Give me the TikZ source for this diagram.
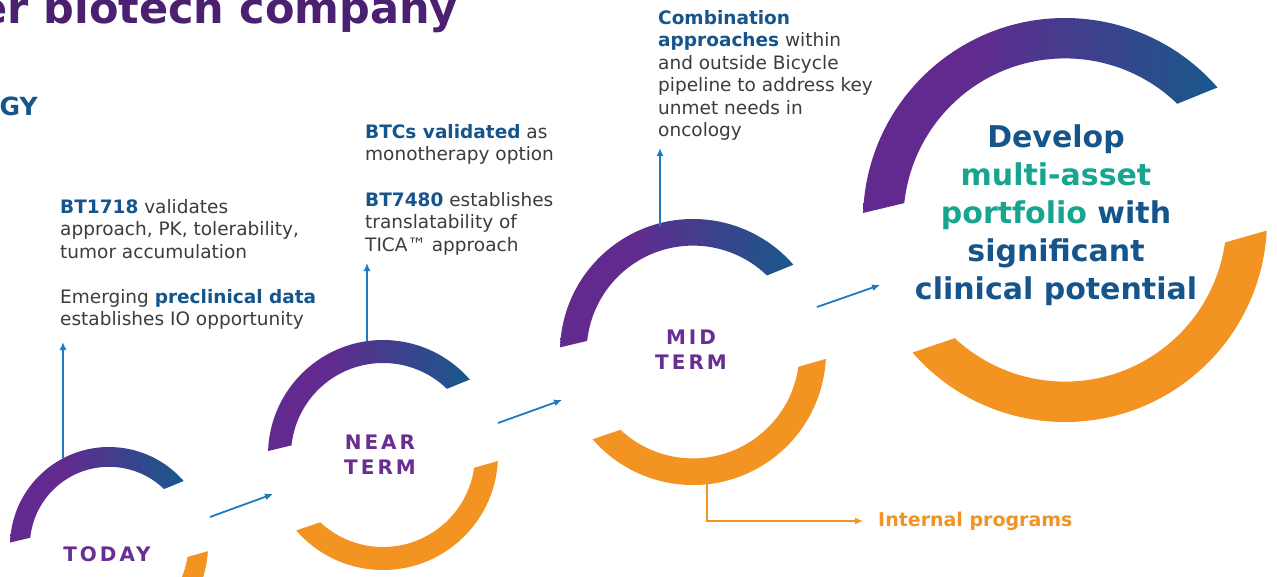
\documentclass[tikz,border=0pt]{standalone}
\usepackage{fontspec}
\setmainfont{DejaVu Sans}
\usepackage{xcolor}
\usetikzlibrary{arrows.meta}
\definecolor{ringpurple}{RGB}{98,42,142}
\definecolor{ringblue}{RGB}{24,88,140}
\definecolor{ringorange}{RGB}{243,147,33}
\definecolor{titlepurple}{RGB}{75,32,112}
\definecolor{stagepurple}{RGB}{106,45,145}
\definecolor{textblue}{RGB}{22,85,140}
\definecolor{textteal}{RGB}{24,165,143}
\definecolor{textgray}{RGB}{60,60,60}
\definecolor{arrowblue}{RGB}{29,123,193}
\pgfdeclarehorizontalshading{ringshade}{100bp}{color(0bp)=(ringpurple); color(25bp)=(ringpurple);
  color(40bp)=(ringpurple); color(75bp)=(ringblue); color(100bp)=(ringblue)}
\newfontfamily\stagefont[LetterSpace=15]{DejaVu Sans}
\newcommand{\hilite}[1]{{\bfseries\color{textblue}#1}}

\begin{document}
\begin{tikzpicture}[
    x=1pt, y=-1pt,
    info/.style={anchor=north west, inner sep=0pt, align=left, text=textgray,
                 font=\fontsize{18.5}{22.5}\selectfont},
    stage/.style={inner sep=0pt, align=center, text=stagepurple,
                  font=\stagefont\bfseries\fontsize{20}{25}\selectfont},
    goal/.style={anchor=north, inner sep=0pt, align=center, text=textblue,
                 font=\bfseries\fontsize{30}{38}\selectfont},
    arr/.style={-{Latex[length=8pt,width=7pt]}, line width=1.8pt, color=arrowblue},
    elbow/.style={-{Latex[length=8pt,width=7pt]}, line width=1.8pt, color=ringorange}
  ]
    \useasboundingbox[fill=white] (0,0) rectangle (1277,576);

    \foreach \n/\x/\y/\r in {r1/109/546/99, r2/383/455/115, r3/693/352/133, r4/1065/220/202}{
      \coordinate (\n) at (\x,\y);
      \shade[shading=ringshade, shift={(\x,\y)}]
        (-178:\r) arc[start angle=-178, end angle=-41, radius=\r]
        -- (-46:{0.8*\r}) arc[start angle=-46, end angle=-174, radius={0.8*\r}] -- cycle;
      \fill[ringorange, shift={(\x,\y)}]
        (139:\r) arc[start angle=139, end angle=3, radius=\r]
        -- (8:{0.8*\r}) arc[start angle=8, end angle=133, radius={0.8*\r}] -- cycle;
    }

    \node[anchor=base east, inner sep=0pt, text=titlepurple,
          font=\bfseries\fontsize{43}{50}\selectfont] (title) at (458,23) {er biotech company};
    \node[anchor=base east, inner sep=0pt, text=textblue,
          font=\bfseries\fontsize{25}{30}\selectfont] (strategy) at (38,115) {GY};

    \node[stage] (today) at (107,554) {TODAY};
    \node[stage] (near)  at (380,455) {NEAR\\TERM};
    \node[stage] (mid)   at (691,350) {MID\\TERM};
    \node[goal]  (goal)  at (1056,125) {Develop\\\textcolor{textteal}{multi-asset}\\
      \textcolor{textteal}{portfolio} with\\significant\\clinical potential};

    \node[info] (todayinfo) at (60,199) {\hilite{BT1718} validates\\approach, PK, tolerability,\\
      tumor accumulation\\[22.5pt]Emerging \hilite{preclinical data}\\establishes IO opportunity};
    \node[info] (nearinfo) at (365,124) {\hilite{BTCs validated} as\\monotherapy option\\[23pt]
      \hilite{BT7480} establishes\\translatability of\\TICA™ approach};
    \node[info] (midinfo) at (658,10) {\hilite{Combination}\\\hilite{approaches} within\\
      and outside Bicycle\\pipeline to address key\\unmet needs in\\oncology};

    \node[anchor=west, inner sep=0pt, text=ringorange,
          font=\bfseries\fontsize{19}{23}\selectfont] (internal) at (878,521) {Internal programs};

    \coordinate (r1up)   at (63,458);
    \coordinate (r1tip)  at (63,342);
    \coordinate (r2up)   at (367,341);
    \coordinate (r2tip)  at (367,263);
    \coordinate (r3up)   at (660,226);
    \coordinate (r3tip)  at (660,148);
    \coordinate (r3down) at (707,484);
    \coordinate (go1) at (210,517);
    \coordinate (to1) at (273,494);
    \coordinate (go2) at (498,423);
    \coordinate (to2) at (562,400);
    \coordinate (go3) at (817,307);
    \coordinate (to3) at (880,285);

    \draw[arr] (r1up) -- (r1tip);
    \draw[arr] (r2up) -- (r2tip);
    \draw[arr] (r3up) -- (r3tip);
    \draw[arr] (go1) -- (to1);
    \draw[arr] (go2) -- (to2);
    \draw[arr] (go3) -- (to3);
    \draw[elbow, shorten >=15pt] (r3down) |- (internal.west);
  \end{tikzpicture}
\end{document}
